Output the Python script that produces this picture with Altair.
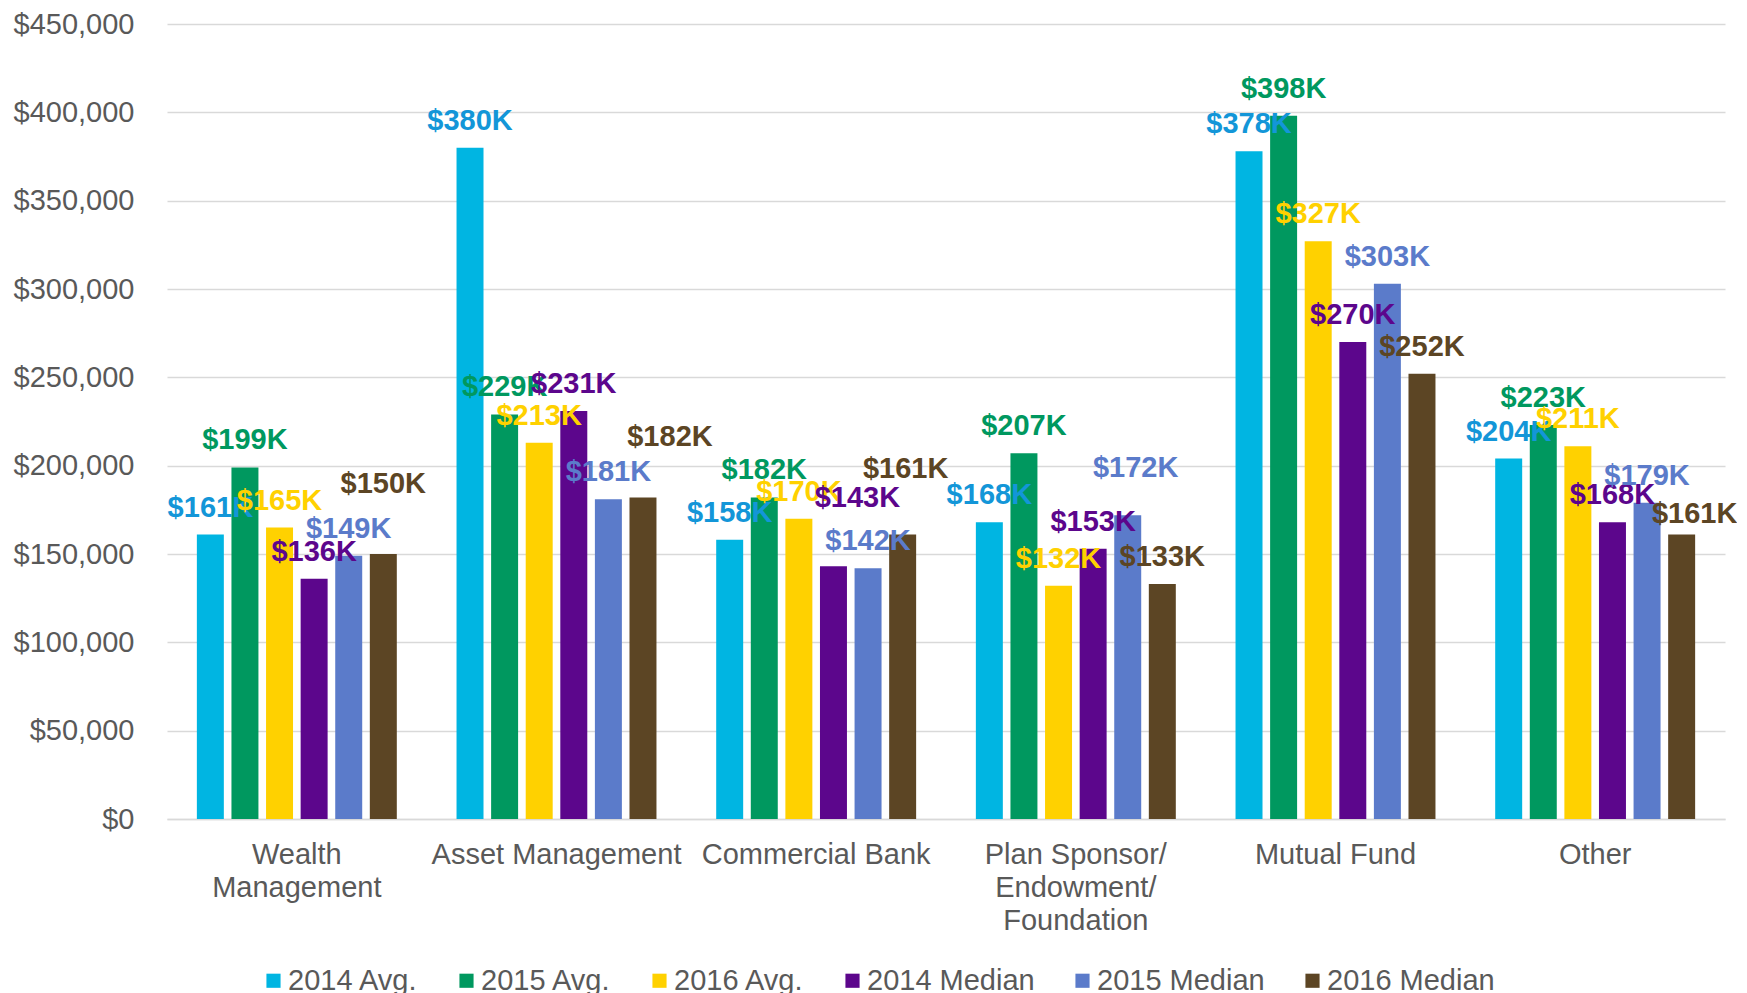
import altair as alt
import pandas as pd

# ---- data ----
categories = ["Wealth|Management", "Asset Management", "Commercial Bank",
              "Plan Sponsor/|Endowment/|Foundation", "Mutual Fund", "Other"]
series = ["2014 Avg.", "2015 Avg.", "2016 Avg.", "2014 Median", "2015 Median", "2016 Median"]

avg_2014 = [161, 380, 158, 168, 378, 204]
avg_2015 = [199, 229, 182, 207, 398, 223]
avg_2016 = [165, 213, 170, 132, 327, 211]
med_2014 = [136, 231, 143, 153, 270, 168]
med_2015 = [149, 181, 142, 172, 303, 179]
med_2016 = [150, 182, 161, 133, 252, 161]
values_k = [avg_2014, avg_2015, avg_2016, med_2014, med_2015, med_2016]

y_ticks = [0, 50000, 100000, 150000, 200000, 250000, 300000, 350000, 400000, 450000]

# ---- styles ----
bar_colors = ["#00B5E2", "#00985F", "#FFD100", "#5C068C", "#5B7BCA", "#5C4524"]
label_colors = ["#1396D8", "#00985F", "#FFD100", "#5C068C", "#5B7BCA", "#5C4524"]
FONT = "Liberation Sans"
GREY = "#595959"
GRID = "#D9D9D9"

# manual nudges of some data labels (pixels), as in the original
label_nudges = {
    ("Wealth|Management", "2016 Median"): (0, -43),
    ("Asset Management", "2016 Median"): (27, -33),
    ("Commercial Bank", "2014 Median"): (24, -41),
    ("Commercial Bank", "2016 Median"): (3, -39),
    ("Plan Sponsor/|Endowment/|Foundation", "2015 Median"): (8, -20),
    ("Other", "2016 Median"): (13, 6),
}
LABEL_DY = -18

rows = []
for s, vals in zip(series, values_k):
    for c, v in zip(categories, vals):
        rows.append({"category": c, "series": s, "value": v * 1000,
                     "label": f"${v}K",
                     "nudged": (c, s) in label_nudges})
df = pd.DataFrame(rows)

base = alt.Chart(df).encode(
    x=alt.X("category:N", sort=categories,
            scale=alt.Scale(paddingInner=0.23, paddingOuter=0.115),
            axis=alt.Axis(title=None, labelAngle=0, labelExpr="split(datum.label, '|')",
                          labelFont=FONT, labelFontSize=29, labelColor=GREY,
                          labelPadding=21, labelLineHeight=33, labelLimit=600,
                          labelOverlap=False, ticks=False, domainColor=GRID,
                          domainWidth=1.5, grid=False)),
    xOffset=alt.XOffset("series:N", sort=series,
                        scale=alt.Scale(paddingInner=0.22, paddingOuter=0)),
    y=alt.Y("value:Q", scale=alt.Scale(domain=[0, 450000], nice=False),
            axis=alt.Axis(title=None, values=y_ticks, format="$,.0f",
                          labelFont=FONT, labelFontSize=29, labelColor=GREY,
                          labelPadding=33, domain=False, ticks=False,
                          gridColor=GRID, gridWidth=1.5, labelLimit=400)),
)

bars = base.mark_bar().encode(
    color=alt.Color("series:N", sort=series,
                    scale=alt.Scale(domain=series, range=bar_colors),
                    legend=alt.Legend(title=None, orient="none", legendX=92, legendY=942,
                                      direction="horizontal", symbolType="square",
                                      symbolSize=200, symbolStrokeWidth=0,
                                      labelFont=FONT, labelFontSize=29, labelColor=GREY,
                                      labelLimit=600, columnPadding=33, labelOffset=0,
                                      padding=0, rowPadding=0))
)

label_color = alt.Color("series:N", sort=series,
                        scale=alt.Scale(domain=series, range=label_colors), legend=None)

texts = [
    base.mark_text(font=FONT, fontSize=29, fontWeight="bold", baseline="alphabetic",
                   align="center", dy=LABEL_DY)
    .encode(text="label:N", color=label_color)
    .transform_filter("!datum.nudged")
]
for (c, s), (ndx, ndy) in label_nudges.items():
    texts.append(
        base.mark_text(font=FONT, fontSize=29, fontWeight="bold", baseline="alphabetic",
                       align="center", dx=ndx, dy=LABEL_DY + ndy)
        .encode(text="label:N", color=label_color)
        .transform_filter((alt.datum.category == c) & (alt.datum.series == s))
    )

chart = alt.layer(bars, *texts).resolve_scale(color="independent").properties(
    width=1558, height=795,
    padding={"left": 159, "top": 16, "right": 12, "bottom": 182},
    autosize=alt.AutoSizeParams(type="none"),
).configure_view(stroke=None)

chart.save("out.html", embed_options={"renderer": "svg", "actions": False})
